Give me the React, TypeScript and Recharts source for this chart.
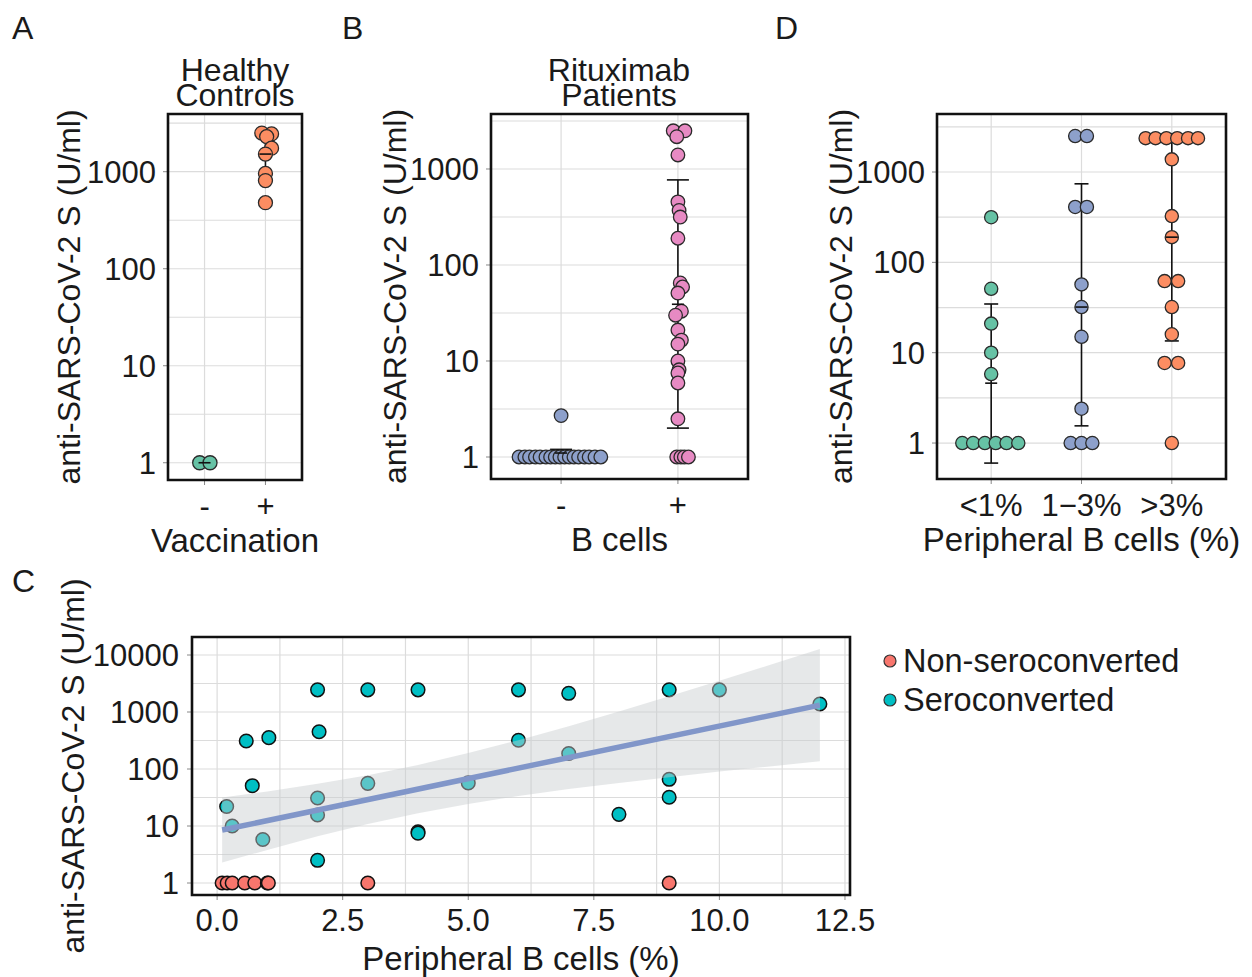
import React from 'react';
import {
  ScatterChart,
  ComposedChart,
  Scatter,
  XAxis,
  YAxis,
  CartesianGrid,
  ReferenceArea,
  ErrorBar,
  Area,
  Line,
} from 'recharts';

const FONT = '"Liberation Sans", Arial, Helvetica, sans-serif';
const TEXT = '#1a1a1a';
const GRID = '#dcdcdc';
const Y_TITLE = 'anti-SARS-CoV-2 S (U/ml)';

// ---------- Panel A : Healthy Controls ----------
const aCategories = ['-', '+'];
const aNegValues = [1, 1];
const aNegDodge = [-0.08, 0.09];
const aPosValues = [2500, 2450, 2300, 1750, 1520, 960, 810, 480];
const aPosDodge = [-0.06, 0.1, 0.02, 0.1, 0, 0, 0, 0];
const aMean = [1, 1520];
const aLow = [0.93, 960];
const aHigh = [1.07, 2550];

// ---------- Panel B : Rituximab Patients ----------
const bCategories = ['-', '+'];
const bNegValues = [2.7, 1, 1, 1, 1, 1, 1, 1, 1, 1, 1, 1, 1, 1, 1, 1, 1, 1];
const bNegDodge = [0, -0.36, -0.31, -0.27, -0.22, -0.18, -0.13, -0.09, -0.05, -0.01, 0.03, 0.07, 0.11, 0.15, 0.2, 0.24, 0.29, 0.34];
const bPosValues = [2500, 2500, 2170, 1400, 455, 370, 316, 190, 65, 59, 51, 33, 30, 21, 16.5, 15, 10, 8.1, 7.5, 5.9, 2.5, 1, 1, 1, 1];
const bPosDodge = [-0.04, 0.06, -0.01, 0, 0, 0.01, 0.02, 0, 0.02, 0.04, 0, 0.03, -0.02, 0, 0.03, 0, 0, 0.01, 0, 0, 0, -0.01, 0.025, 0.055, 0.09];
const bMean = [1.1, 39];
const bLow = [0.98, 2.0];
const bHigh = [1.2, 770];

// ---------- Panel D : by peripheral B cells ----------
const dCategories = ['<1%', '1\u22123%', '>3%'];
const dLowValues = [316, 51, 21, 10, 5.8, 1, 1, 1, 1, 1, 1];
const dLowDodge = [0, 0, 0, 0, 0, -0.32, -0.2, -0.07, 0.05, 0.17, 0.3];
const dMidValues = [2500, 2500, 410, 410, 57, 32, 15, 2.4, 1, 1, 1];
const dMidDodge = [-0.07, 0.06, -0.07, 0.06, 0, 0, 0, 0, -0.12, 0, 0.12];
const dHighValues = [2370, 2370, 2370, 2370, 2370, 2370, 1380, 325, 190, 62, 62, 32, 16, 7.7, 7.7, 1];
const dHighDodge = [-0.29, -0.18, -0.06, 0.06, 0.18, 0.29, 0, 0, 0, -0.08, 0.07, 0, 0, -0.08, 0.07, 0];
const dMean = [4.6, 32, 190];
const dLow = [0.6, 1.55, 13.5];
const dHigh = [34.6, 740, 2650];

// ---------- Panel C : correlation ----------
const cSeroX = [2, 3, 4, 6, 7, 9, 10, 12, 0.58, 1.03, 2.03, 6, 7, 0.7, 0.19, 0.3, 0.91, 2, 2, 3, 4, 4, 5, 2, 9, 9, 8];
const cSeroY = [2450, 2450, 2450, 2450, 2130, 2450, 2450, 1380, 310, 355, 450, 320, 187, 51, 22, 10, 5.8, 31, 15.6, 56, 7.9, 7.5, 57, 2.5, 66, 32, 16];
const cNonX = [0.1, 0.2, 0.3, 0.55, 0.75, 1.0, 1.02, 3, 9];
const cNonY = [1, 1, 1, 1, 1, 1, 1, 1, 1];
const cFitX = [0.1, 12];
const cFitY = [8.5, 1320];
const cBandX = [0.1, 1, 2, 3, 4, 5, 6, 7, 8, 9, 10, 11, 12];
const cBandLow = [2.3, 3.8, 6.6, 10.8, 16.7, 24.3, 33.6, 44.5, 57, 72, 90, 111, 137];
const cBandHigh = [31.6, 40.5, 55, 78, 118, 190, 321, 565, 1020, 1890, 3530, 6680, 12700];
const cXTicks = [0, 2.5, 5, 7.5, 10, 12.5];
const cXGrid = [0, 1.25, 2.5, 3.75, 5, 6.25, 7.5, 8.75, 10, 11.25, 12.5];
const legendNames = ['Non-seroconverted', 'Seroconverted'];
const legendColors = ['#F8766D', '#00BFC4'];

const logTicks = [1, 10, 100, 1000, 10000];
const logGrid = [1, 3.162, 10, 31.62, 100, 316.2, 1000, 3162, 10000];

const SET2 = { green: '#66C2A5', orange: '#FC8D62', blue: '#8DA0CB', pink: '#E78AC3' };

const tickStyle = { fill: TEXT, fontSize: 31, fontFamily: FONT };
const titleStyle = { fill: TEXT, fontSize: 33, fontFamily: FONT };
const yTitleStyle = { fill: TEXT, fontSize: 32, fontFamily: FONT, textAnchor: 'middle' as const };

const toPoints = (values: number[], dodge: number[], cat: number) =>
  values.map((v, i) => ({ x: cat + dodge[i], y: v }));

const circleShape = (r: number, fill: string, stroke: string, sw: number) => (p: any) => (
  <circle cx={p.cx} cy={p.cy} r={r} fill={fill} stroke={stroke} strokeWidth={sw} />
);

const meanShape = (half: number) => (p: any) => (
  <line x1={p.cx - half} x2={p.cx + half} y1={p.cy} y2={p.cy} stroke="#111" strokeWidth={1.6} />
);

type Group = { values: number[]; dodge: number[]; color: string; cat: number };

function CategoryPanel(props: {
  left: number;
  top: number;
  yAxisWidth: number;
  plotWidth: number;
  plotHeight: number;
  xDomain: [number, number];
  yDomain: [number, number];
  categories: string[];
  groups: Group[];
  mean: number[];
  low: number[];
  high: number[];
  capWidth: number;
  xTitle?: string;
  yTitleOffset: number;
  radius: number;
}) {
  const { left, top, yAxisWidth, plotWidth, plotHeight, xDomain, yDomain, categories, groups, mean, low, high, capWidth, xTitle, yTitleOffset, radius } = props;
  const width = yAxisWidth + plotWidth + 30;
  const height = 10 + plotHeight + 85;
  const cats = categories.map((_, i) => i + 1);
  const summary = mean.map((m, i) => ({ x: i + 1, y: m, err: [m - low[i], high[i] - m] }));
  const yGrid = logGrid.filter((v) => v > yDomain[0] && v < yDomain[1]);
  const yTicks = logTicks.filter((v) => v > yDomain[0] && v < yDomain[1]);
  return (
    <div style={{ position: 'absolute', left, top, width, height }}>
      <ScatterChart width={width} height={height} margin={{ top: 10, right: 30, left: 0, bottom: 0 }}>
        <CartesianGrid stroke={GRID} strokeWidth={1.2} horizontalValues={yGrid} verticalValues={cats} />
        <XAxis
          type="number"
          dataKey="x"
          domain={xDomain}
          allowDataOverflow
          ticks={cats}
          interval={0}
          tickFormatter={(v: number) => categories[Math.round(v) - 1]}
          axisLine={false}
          tickLine={{ stroke: '#888' }}
          tickSize={5}
          tickMargin={10}
          tick={tickStyle}
          height={85}
          label={xTitle ? { value: xTitle, position: 'insideBottom', offset: 13, style: titleStyle } : undefined}
        />
        <YAxis
          type="number"
          scale="log"
          domain={yDomain}
          allowDataOverflow
          ticks={yTicks}
          interval={0}
          width={yAxisWidth}
          axisLine={false}
          tickLine={{ stroke: '#888' }}
          tickSize={5}
          tickMargin={7}
          tick={tickStyle}
          label={{ value: Y_TITLE, angle: -90, position: 'insideLeft', offset: yTitleOffset, style: yTitleStyle }}
        />
        {groups.map((g, i) => (
          <Scatter
            key={i}
            data={toPoints(g.values, g.dodge, g.cat)}
            dataKey="y"
            shape={circleShape(radius, g.color, '#2a2a2a', 1.3)}
            isAnimationActive={false}
            zIndex={600}
          />
        ))}
        <Scatter data={summary} dataKey="y" shape={meanShape(6)} isAnimationActive={false} zIndex={650}>
          <ErrorBar dataKey="err" direction="y" width={capWidth} stroke="#111" strokeWidth={1.6} isAnimationActive={false} />
        </Scatter>
        <ReferenceArea
          x1={xDomain[0]}
          x2={xDomain[1]}
          y1={yDomain[0]}
          y2={yDomain[1]}
          fill="none"
          fillOpacity={0}
          stroke="#111"
          strokeWidth={2.6}
          ifOverflow="visible"
          zIndex={700}
        />
      </ScatterChart>
    </div>
  );
}

function PanelC() {
  const bandRows = cBandX.map((x, i) => ({ x, band: [cBandLow[i], cBandHigh[i]] }));
  const fitRows = cFitX.map((x, i) => ({ x, y: cFitY[i] }));
  const seroRows = cSeroX.map((x, i) => ({ x, y: cSeroY[i] }));
  const nonRows = cNonX.map((x, i) => ({ x, y: cNonY[i] }));
  const xDomain: [number, number] = [-0.5, 12.6];
  const yDomain: [number, number] = [0.616, 20700];
  const yGrid = logGrid.filter((v) => v > yDomain[0] && v < yDomain[1]);
  return (
    <div style={{ position: 'absolute', left: 40, top: 560, width: 870, height: 417 }}>
      <ComposedChart width={870} height={417} data={bandRows} margin={{ top: 77, right: 60, left: 0, bottom: 0 }}>
        <CartesianGrid stroke={GRID} strokeWidth={1.2} horizontalValues={yGrid} verticalValues={cXGrid} />
        <XAxis
          type="number"
          dataKey="x"
          domain={xDomain}
          allowDataOverflow
          ticks={cXTicks}
          interval={0}
          tickFormatter={(v: number) => v.toFixed(1)}
          axisLine={false}
          tickLine={{ stroke: '#888' }}
          tickSize={5}
          tickMargin={9}
          tick={tickStyle}
          height={82}
          label={{ value: 'Peripheral B cells (%)', position: 'insideBottom', offset: 7, style: titleStyle }}
        />
        <YAxis
          type="number"
          scale="log"
          domain={yDomain}
          allowDataOverflow
          ticks={logTicks}
          interval={0}
          width={152}
          axisLine={false}
          tickLine={{ stroke: '#888' }}
          tickSize={5}
          tickMargin={8}
          tick={tickStyle}
          label={{ value: Y_TITLE, angle: -90, position: 'insideLeft', offset: 33, style: yTitleStyle }}
        />
        <Scatter data={nonRows} dataKey="y" shape={circleShape(6.8, legendColors[0], '#111', 1.5)} isAnimationActive={false} zIndex={300} />
        <Scatter data={seroRows} dataKey="y" shape={circleShape(6.8, legendColors[1], '#111', 1.5)} isAnimationActive={false} zIndex={300} />
        <Area dataKey="band" type="linear" stroke="none" fill="#c8cbce" fillOpacity={0.45} isAnimationActive={false} zIndex={350} />
        <Line data={fitRows} dataKey="y" type="linear" stroke="#8196c9" strokeWidth={5.5} dot={false} activeDot={false} isAnimationActive={false} zIndex={400} />
        <ReferenceArea
          x1={xDomain[0]}
          x2={xDomain[1]}
          y1={yDomain[0]}
          y2={yDomain[1]}
          fill="none"
          fillOpacity={0}
          stroke="#111"
          strokeWidth={2.6}
          ifOverflow="visible"
          zIndex={700}
        />
      </ComposedChart>
    </div>
  );
}

export default function App() {
  const letterStyle = { fontSize: 32, fontFamily: FONT, fill: TEXT };
  const headStyle = { fontSize: 32, fontFamily: FONT, fill: TEXT };
  return (
    <div style={{ position: 'absolute', left: 0, top: 0, width: 1252, height: 977, background: '#fff', overflow: 'hidden' }}>
      <CategoryPanel
        left={40}
        top={104}
        yAxisWidth={128}
        plotWidth={134}
        plotHeight={366}
        xDomain={[0.4, 2.6]}
        yDomain={[0.664, 3935]}
        categories={aCategories}
        groups={[
          { values: aNegValues, dodge: aNegDodge, color: SET2.green, cat: 1 },
          { values: aPosValues, dodge: aPosDodge, color: SET2.orange, cat: 2 },
        ]}
        mean={aMean}
        low={aLow}
        high={aHigh}
        capWidth={6}
        xTitle="Vaccination"
        yTitleOffset={29}
        radius={7}
      />
      <CategoryPanel
        left={370}
        top={104}
        yAxisWidth={121}
        plotWidth={257}
        plotHeight={365}
        xDomain={[0.4, 2.6]}
        yDomain={[0.59, 3740]}
        categories={bCategories}
        groups={[
          { values: bNegValues, dodge: bNegDodge, color: SET2.blue, cat: 1 },
          { values: bPosValues, dodge: bPosDodge, color: SET2.pink, cat: 2 },
        ]}
        mean={bMean}
        low={bLow}
        high={bHigh}
        capWidth={11}
        xTitle="B cells"
        yTitleOffset={25}
        radius={6.8}
      />
      <CategoryPanel
        left={815}
        top={104}
        yAxisWidth={122}
        plotWidth={289}
        plotHeight={365}
        xDomain={[0.4, 3.6]}
        yDomain={[0.4, 4385]}
        categories={dCategories}
        groups={[
          { values: dLowValues, dodge: dLowDodge, color: SET2.green, cat: 1 },
          { values: dMidValues, dodge: dMidDodge, color: SET2.blue, cat: 2 },
          { values: dHighValues, dodge: dHighDodge, color: SET2.orange, cat: 3 },
        ]}
        mean={dMean}
        low={dLow}
        high={dHigh}
        capWidth={7}
        xTitle="Peripheral B cells (%)"
        yTitleOffset={26}
        radius={6.6}
      />
      <PanelC />
      <svg width={1252} height={977} style={{ position: 'absolute', left: 0, top: 0, pointerEvents: 'none' }}>
        <text x={12} y={39} style={letterStyle}>A</text>
        <text x={342} y={39} style={letterStyle}>B</text>
        <text x={775} y={39} style={letterStyle}>D</text>
        <text x={12} y={592} style={letterStyle}>C</text>
        <text x={235} y={81} textAnchor="middle" style={headStyle}>Healthy</text>
        <text x={235} y={106} textAnchor="middle" style={headStyle}>Controls</text>
        <text x={619} y={81} textAnchor="middle" style={headStyle}>Rituximab</text>
        <text x={619} y={106} textAnchor="middle" style={headStyle}>Patients</text>
        {legendNames.map((name, i) => (
          <g key={name}>
            <circle cx={890} cy={661 + i * 39} r={6} fill={legendColors[i]} stroke="#333" strokeWidth={1.2} />
            <text x={903} y={672 + i * 39} style={{ fontSize: 32.5, fontFamily: FONT, fill: TEXT }}>{name}</text>
          </g>
        ))}
      </svg>
    </div>
  );
}
